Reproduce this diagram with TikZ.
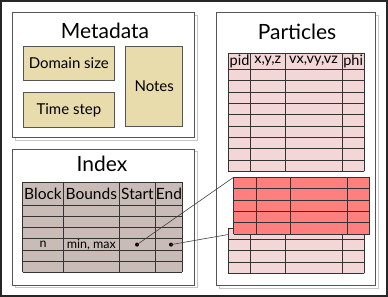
\documentclass[tikz,border=0pt]{standalone}
\usepackage{fontspec}
\setmainfont{Lato}
\usetikzlibrary{positioning,shadows}
\definecolor{khaki}{RGB}{232,219,172}
\definecolor{idxgray}{RGB}{201,188,183}
\definecolor{pale}{RGB}{243,214,214}
\definecolor{salmon}{RGB}{255,127,127}
\definecolor{edge}{RGB}{85,85,85}

\begin{document}
\begin{tikzpicture}[x=1pt,y=-1pt,
  panel/.style={draw=edge,line width=1pt,fill=white,anchor=north west,inner sep=0pt,
    drop shadow={shadow xshift=2.5pt,shadow yshift=-2.5pt,fill=none,draw=gray!45,opacity=1}},
  field/.style={draw=edge,line width=0.8pt,fill=khaki,anchor=north west,inner sep=0pt,font=\fontsize{15}{15}\selectfont},
  title/.style={font=\fontsize{21}{21}\selectfont},
  head/.style={font=\fontsize{15.5}{15.5}\selectfont},
  colhead/.style={font=\fontsize{14.5}{14.5}\selectfont},
  small/.style={font=\fontsize{12.5}{12.5}\selectfont},
  sheet/.style={anchor=north west,inner sep=0pt},
  grid/.style={draw=black!80,line width=0.7pt},
  link/.style={draw=black!75,line width=0.6pt},
  dot/.style={circle,fill=black,inner sep=0pt,minimum size=4pt}]
\useasboundingbox (0,0) rectangle (388,297);
\draw[line width=1.3pt,black!85] (1,1) rectangle (387,296);

\node[panel,minimum width=182pt,minimum height=125pt] (meta) at (12,12) {};
\node[panel,minimum width=182pt,minimum height=136pt] (index) at (12,148.5) {};
\node[panel,minimum width=159pt,minimum height=273pt] (parts) at (216,12) {};

\node[title] (metatitle) at (105,31) {Metadata};
\node[title] (indextitle) at (102,164) {Index};
\node[title] (partstitle) at (297,32) {Particles};

\node[field,minimum width=91.5pt,minimum height=34pt] (domain) at (22.7,46) {Domain size};
\node[field,minimum width=91.5pt,minimum height=34.5pt] (tstep) at (22.7,92.3) {Time step};
\node[field,minimum width=57pt,minimum height=80pt] (notes) at (125.3,46) {Notes};

% index table
\node[sheet,fill=idxgray,minimum width=159.6pt,minimum height=90.1pt] (idxtab) at (22.7,182) {};
\foreach \x in {22.7,63.3,119.3,155.7,182.3} \draw[grid] (\x,182)--(\x,272.1);
\foreach \y in {182,205.5,216.6,227.7,238.8,249.9,261,272.1} \draw[grid] (22.7,\y)--(182.3,\y);
\foreach \x/\t/\n in {43/Block/hblock,91.3/Bounds/hbounds,137.5/Start/hstart,169/End/hend}
  \node[head] (\n) at (\x,193.7) {\t};
\node[small] (blockn) at (43,244.3) {n};
\node[small] (minmax) at (91.3,244.3) {min, max};
\node[dot] (start) at (137,244.6) {};
\node[dot] (end) at (171,244.6) {};

% particle table
\node[sheet,fill=pale,minimum width=136pt,minimum height=118pt] (upper) at (228.3,53.3) {};
\foreach \x in {228.3,250.7,285,342,364.3} \draw[grid] (\x,53.3)--(\x,171.3);
\draw[grid] (228.3,53.3)--(364.3,53.3);
\foreach \k in {0,...,9} \draw[grid] (228.3,69.3+11.33*\k)--(364.3,69.3+11.33*\k);
\foreach \x/\t/\n in {239.5/pid/hpid,267.8/{x,y,z}/hpos,313.5/{vx,vy,vz}/hvel,353.2/phi/hphi}
  \node[colhead] (\n) at (\x,61.3) {\t};

\node[sheet,fill=pale,minimum width=136pt,minimum height=45pt] (lower) at (228.3,228.3) {};
\foreach \x in {228.3,250.7,285,342,364.3} \draw[grid] (\x,228.3)--(\x,273.3);
\foreach \k in {0,...,4} \draw[grid] (228.3,228.3+11.25*\k)--(364.3,228.3+11.25*\k);

\node[sheet,fill=salmon,minimum width=136pt,minimum height=56.7pt] (block) at (233.6,177.3) {};
\foreach \x in {233.6,256,290.3,347.3,369.6} \draw[grid] (\x,177.3)--(\x,234);
\foreach \k in {0,...,5} \draw[grid] (233.6,177.3+11.34*\k)--(369.6,177.3+11.34*\k);

\coordinate (blockin) at (228.3,234.5);
\draw[link] (start.center) -- (block.north west);
\draw[link] (end.center) -- (blockin);
\end{tikzpicture}
\end{document}
